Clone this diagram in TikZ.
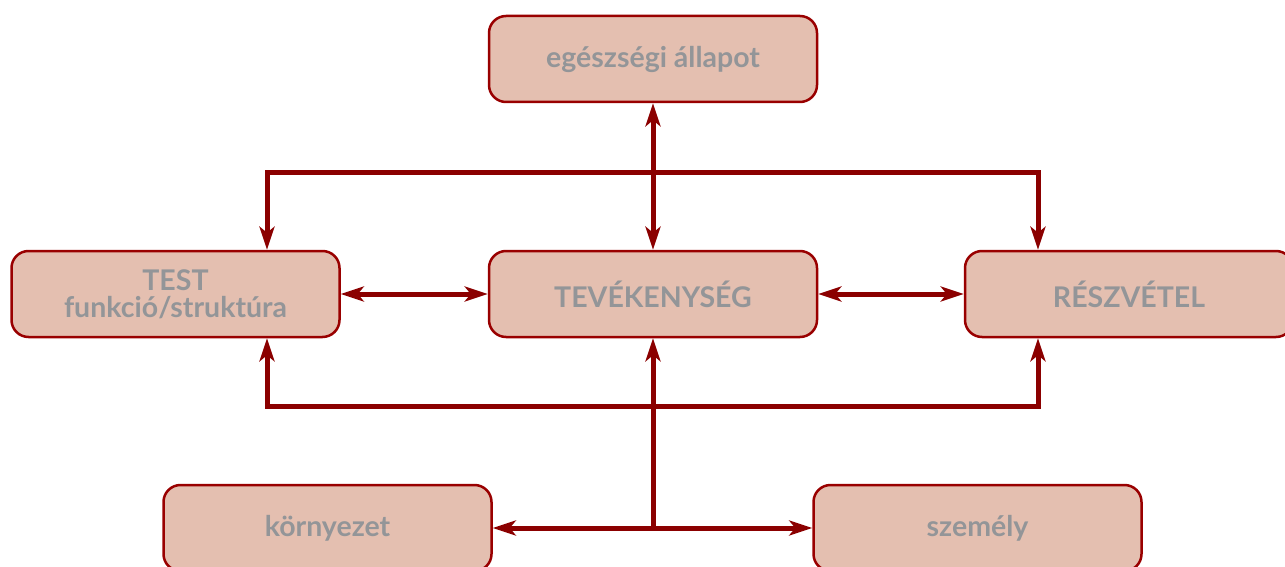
\documentclass[tikz,border=0pt]{standalone}
\usepackage{fontspec}
\setmainfont{Lato}
\usetikzlibrary{arrows.meta}
\definecolor{boxfill}{HTML}{E4BFB0}
\definecolor{boxline}{HTML}{990000}
\definecolor{conncol}{HTML}{8B0000}
\definecolor{txtcol}{HTML}{939598}
\tikzset{
  box/.style={draw=boxline, line width=2.5pt, fill=boxfill, rounded corners=17pt,
    minimum width=328pt, minimum height=86pt, inner sep=0pt, align=center,
    text=txtcol, font=\fontsize{28.5}{27}\selectfont\bfseries},
  conn/.style={draw=conncol, line width=5pt},
  tip/.tip={Stealth[length=23pt,width=15pt,inset=6pt]}
}
\begin{document}
\begin{tikzpicture}[x=1pt,y=-1pt]
\useasboundingbox (0,0) rectangle (1285,567);
\begin{scope}
\clip (0,0) rectangle (1285,567);
\node[box] (top) at (653,59) {egészségi állapot};
\node[box] (test) at (175.5,294) {TEST\\funkció/struktúra};
\node[box] (tev) at (653,294) {TEVÉKENYSÉG};
\node[box] (resz) at (1129,294) {RÉSZVÉTEL};
\node[box] (korny) at (327.5,528) {környezet};
\node[box] (szem) at (977.5,528) {személy};
\end{scope}
\coordinate (ja) at (267,172);
\coordinate (jb) at (1038,172);
\coordinate (jc) at (267,406.5);
\coordinate (jd) at (1038,406.5);
\coordinate (hub) at (tev.south |- korny.east);
\draw[conn, tip-tip] (top.south) -- (tev.north);
\draw[conn, tip-tip] (test.north -| ja) -- (ja) -- (jb) -- (resz.north -| jb);
\draw[conn, tip-tip] (test.south -| jc) -- (jc) -- (jd) -- (resz.south -| jd);
\draw[conn, -tip] (hub) -- (tev.south);
\draw[conn, tip-tip] (korny.east) -- (szem.west);
\draw[conn, tip-tip] (test.east) -- (tev.west);
\draw[conn, tip-tip] (tev.east) -- (resz.west);
\end{tikzpicture}
\end{document}
